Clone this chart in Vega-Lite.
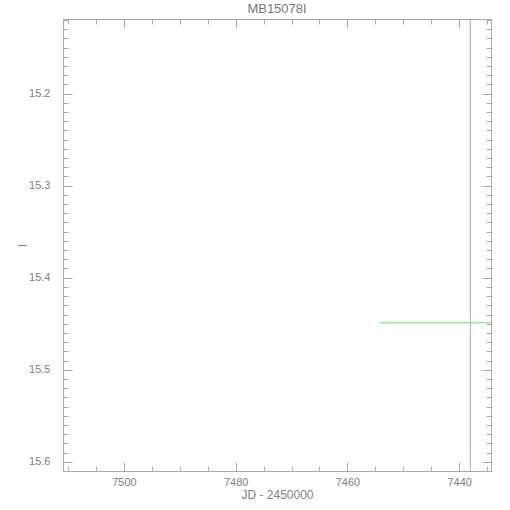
{
  "$schema": "https://vega.github.io/schema/vega-lite/v6.json",
  "width": 428,
  "height": 452,
  "autosize": {"type": "none"},
  "padding": {"left": 63, "top": 19, "right": 19, "bottom": 39},
  "title": {"text": "MB15078I", "fontSize": 13, "fontWeight": "normal", "color": "#777777", "font": "Liberation Sans", "offset": 3, "anchor": "middle"},
  "datasets": {
    "blue": [{"jd": 7438.0}],
    "green": [{"jd_start": 7454.2, "jd_end": 7434.3, "mag": 15.449}]
  },
  "resolve": {"axis": {"x": "independent", "y": "independent"}},
  "layer": [
    {
      "data": {"name": "blue"},
      "mark": {"type": "rule", "color": "#9c9cff", "strokeWidth": 1},
      "encoding": {
        "x": {"field": "jd", "type": "quantitative",
          "scale": {"domain": [7434.3, 7510.9], "reverse": true, "nice": false, "zero": false},
          "axis": {"orient": "bottom", "values": [7440, 7460, 7480, 7500], "format": "d", "tickSize": -9, "labelPadding": 14, "title": "JD  -  2450000", "titlePadding": 2, "titleFontSize": 12}}
      }
    },
    {
      "data": {"name": "green"},
      "mark": {"type": "rule", "color": "#55ee55", "strokeWidth": 1},
      "encoding": {
        "x": {"field": "jd_start", "type": "quantitative",
          "axis": {"orient": "bottom", "values": [7435, 7445, 7450, 7455, 7465, 7470, 7475, 7485, 7490, 7495, 7505, 7510], "tickSize": -5, "labels": false, "title": null}},
        "x2": {"field": "jd_end"},
        "y": {"field": "mag", "type": "quantitative",
          "scale": {"domain": [15.119, 15.61], "reverse": true, "nice": false, "zero": false},
          "axis": {"orient": "left", "values": [15.2, 15.3, 15.4, 15.5, 15.6], "format": ".1f", "tickSize": -9, "labelPadding": 22, "title": "I", "titlePadding": 1}}
      }
    },
    {
      "data": {"name": "green"},
      "mark": {"type": "rule", "color": "#55ee55", "opacity": 0},
      "encoding": {
        "x": {"field": "jd_start", "type": "quantitative",
          "axis": {"orient": "top", "values": [7440, 7460, 7480, 7500], "tickSize": -9, "labels": false, "title": null}},
        "x2": {"field": "jd_end"},
        "y": {"field": "mag", "type": "quantitative",
          "axis": {"orient": "left", "values": [15.12, 15.13, 15.14, 15.15, 15.16, 15.17, 15.18, 15.19, 15.21, 15.22, 15.23, 15.24, 15.25, 15.26, 15.27, 15.28, 15.29, 15.31, 15.32, 15.33, 15.34, 15.35, 15.36, 15.37, 15.38, 15.39, 15.41, 15.42, 15.43, 15.44, 15.45, 15.46, 15.47, 15.48, 15.49, 15.51, 15.52, 15.53, 15.54, 15.55, 15.56, 15.57, 15.58, 15.59, 15.61], "tickSize": -5, "labels": false, "title": null}}
      }
    },
    {
      "data": {"name": "green"},
      "mark": {"type": "rule", "color": "#55ee55", "opacity": 0},
      "encoding": {
        "x": {"field": "jd_start", "type": "quantitative",
          "axis": {"orient": "top", "values": [7435, 7445, 7450, 7455, 7465, 7470, 7475, 7485, 7490, 7495, 7505, 7510], "tickSize": -5, "labels": false, "title": null}},
        "x2": {"field": "jd_end"},
        "y": {"field": "mag", "type": "quantitative",
          "axis": {"orient": "right", "values": [15.2, 15.3, 15.4, 15.5, 15.6], "tickSize": -9, "labels": false, "title": null}}
      }
    },
    {
      "data": {"name": "green"},
      "mark": {"type": "rule", "color": "#55ee55", "opacity": 0},
      "encoding": {
        "x": {"field": "jd_start", "type": "quantitative", "axis": null},
        "x2": {"field": "jd_end"},
        "y": {"field": "mag", "type": "quantitative",
          "axis": {"orient": "right", "values": [15.12, 15.13, 15.14, 15.15, 15.16, 15.17, 15.18, 15.19, 15.21, 15.22, 15.23, 15.24, 15.25, 15.26, 15.27, 15.28, 15.29, 15.31, 15.32, 15.33, 15.34, 15.35, 15.36, 15.37, 15.38, 15.39, 15.41, 15.42, 15.43, 15.44, 15.45, 15.46, 15.47, 15.48, 15.49, 15.51, 15.52, 15.53, 15.54, 15.55, 15.56, 15.57, 15.58, 15.59, 15.61], "tickSize": -5, "labels": false, "title": null}}
      }
    }
  ],
  "config": {
    "view": {"stroke": "#a8a8a8", "strokeWidth": 1},
    "axis": {
      "domain": false,
      "grid": false,
      "tickColor": "#a8a8a8",
      "tickWidth": 1,
      "labelColor": "#808080",
      "labelFont": "Liberation Sans",
      "labelFontSize": 11,
      "titleColor": "#808080",
      "titleFont": "Liberation Sans",
      "titleFontSize": 11,
      "titleFontWeight": "normal"
    }
  }
}
